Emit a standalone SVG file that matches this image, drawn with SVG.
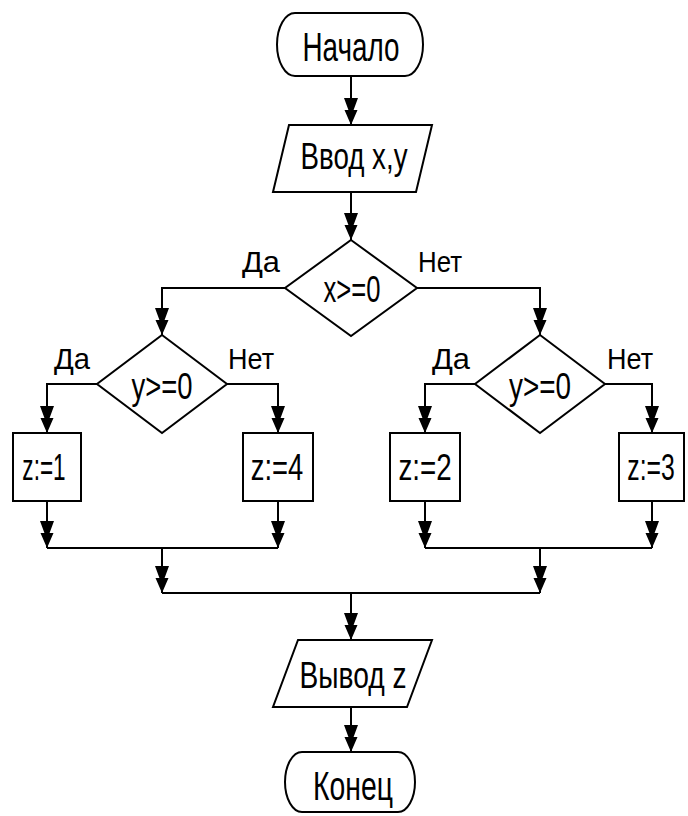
<svg xmlns="http://www.w3.org/2000/svg" width="688" height="816" viewBox="0 0 688 816">
<style>
.s{fill:#fff;stroke:#000;stroke-width:2}
.c{fill:none;stroke:#000;stroke-width:2}
text{font-family:"Liberation Sans","DejaVu Sans",sans-serif;fill:#000;text-anchor:middle}
.t{font-size:41px}
.m{font-size:36px}
.n{font-size:37px}
.l{font-size:30px}
</style>
<defs>
<marker id="arr" viewBox="-27 -8 28 16" refX="0" refY="0" markerWidth="28" markerHeight="16" markerUnits="userSpaceOnUse" orient="auto">
<path d="M -27 -7 L -27 7 L -8 0 Z M -15 -6.5 L -15 6.5 L 0 0 Z" fill="#000"/>
</marker>
</defs>
<rect width="688" height="816" fill="#fff"/>
<g id="connectors">
<path class="c" d="M 351 76 V 125" marker-end="url(#arr)"/>
<path class="c" d="M 351 192 V 240" marker-end="url(#arr)"/>
<path class="c" d="M 285 288 H 162 V 335" marker-end="url(#arr)"/>
<path class="c" d="M 417 288 H 540 V 335" marker-end="url(#arr)"/>
<path class="c" d="M 97 384 H 47 V 433" marker-end="url(#arr)"/>
<path class="c" d="M 227 384 H 278 V 433" marker-end="url(#arr)"/>
<path class="c" d="M 475 384 H 425 V 433" marker-end="url(#arr)"/>
<path class="c" d="M 605 384 H 652 V 433" marker-end="url(#arr)"/>
<path class="c" d="M 47 501 V 548" marker-end="url(#arr)"/>
<path class="c" d="M 278 501 V 548" marker-end="url(#arr)"/>
<path class="c" d="M 47 548 H 278"/>
<path class="c" d="M 425 501 V 548" marker-end="url(#arr)"/>
<path class="c" d="M 652 501 V 548" marker-end="url(#arr)"/>
<path class="c" d="M 425 548 H 652"/>
<path class="c" d="M 162 548 V 593" marker-end="url(#arr)"/>
<path class="c" d="M 540 548 V 593" marker-end="url(#arr)"/>
<path class="c" d="M 162 593 H 540"/>
<path class="c" d="M 351 593 V 640" marker-end="url(#arr)"/>
<path class="c" d="M 351 707 V 752" marker-end="url(#arr)"/>
<text class="l" x="261" y="272" textLength="38" lengthAdjust="spacingAndGlyphs">Да</text>
<text class="l" x="440" y="272" textLength="44" lengthAdjust="spacingAndGlyphs">Нет</text>
<text class="l" x="72" y="369" textLength="36" lengthAdjust="spacingAndGlyphs">Да</text>
<text class="l" x="251" y="369" textLength="46" lengthAdjust="spacingAndGlyphs">Нет</text>
<text class="l" x="451" y="369" textLength="38" lengthAdjust="spacingAndGlyphs">Да</text>
<text class="l" x="630" y="369" textLength="46" lengthAdjust="spacingAndGlyphs">Нет</text>
</g>
<g id="start">
<path class="s" d="M 295 13 H 405 A 18 31.5 0 0 1 405 76 H 295 A 18 31.5 0 0 1 295 13 Z"/>
<text class="t" x="351" y="61" textLength="97" lengthAdjust="spacingAndGlyphs">Начало</text>
</g>
<g id="input">
<path class="s" d="M 289 125 H 432 L 416 192 H 273 Z"/>
<text class="m" x="354" y="169" textLength="107" lengthAdjust="spacingAndGlyphs">Ввод x,y</text>
</g>
<g id="cond-x">
<path class="s" d="M 351 240 L 417 288 L 351 336 L 285 288 Z"/>
<text class="n" x="352" y="302" textLength="57" lengthAdjust="spacingAndGlyphs">x&gt;=0</text>
</g>
<g id="cond-y-left">
<path class="s" d="M 162 335 L 227 384 L 162 433 L 97 384 Z"/>
<text class="n" x="162" y="399" textLength="61" lengthAdjust="spacingAndGlyphs">y&gt;=0</text>
</g>
<g id="cond-y-right">
<path class="s" d="M 540 335 L 605 384 L 540 433 L 475 384 Z"/>
<text class="n" x="540" y="399" textLength="62" lengthAdjust="spacingAndGlyphs">y&gt;=0</text>
</g>
<g id="z1">
<rect class="s" x="13" y="433" width="68" height="68"/>
<text class="n" transform="translate(44 480) scale(0.61 1)">z:=1</text>
</g>
<g id="z4">
<rect class="s" x="243" y="433" width="70" height="68"/>
<text class="n" transform="translate(277 480) scale(0.74 1)">z:=4</text>
</g>
<g id="z2">
<rect class="s" x="390" y="433" width="70" height="68"/>
<text class="n" transform="translate(425 480) scale(0.75 1)">z:=2</text>
</g>
<g id="z3">
<rect class="s" x="619" y="433" width="65" height="68"/>
<text class="n" transform="translate(651 480) scale(0.67 1)">z:=3</text>
</g>
<g id="output">
<path class="s" d="M 298 640 H 432 L 407 707 H 273 Z"/>
<text class="n" x="353" y="688" textLength="107" lengthAdjust="spacingAndGlyphs">Вывод z</text>
</g>
<g id="end">
<path class="s" d="M 302 752 H 398 A 17 30 0 0 1 398 812 H 302 A 17 30 0 0 1 302 752 Z"/>
<text class="t" x="353" y="800" textLength="80" lengthAdjust="spacingAndGlyphs">Конец</text>
</g>
</svg>
